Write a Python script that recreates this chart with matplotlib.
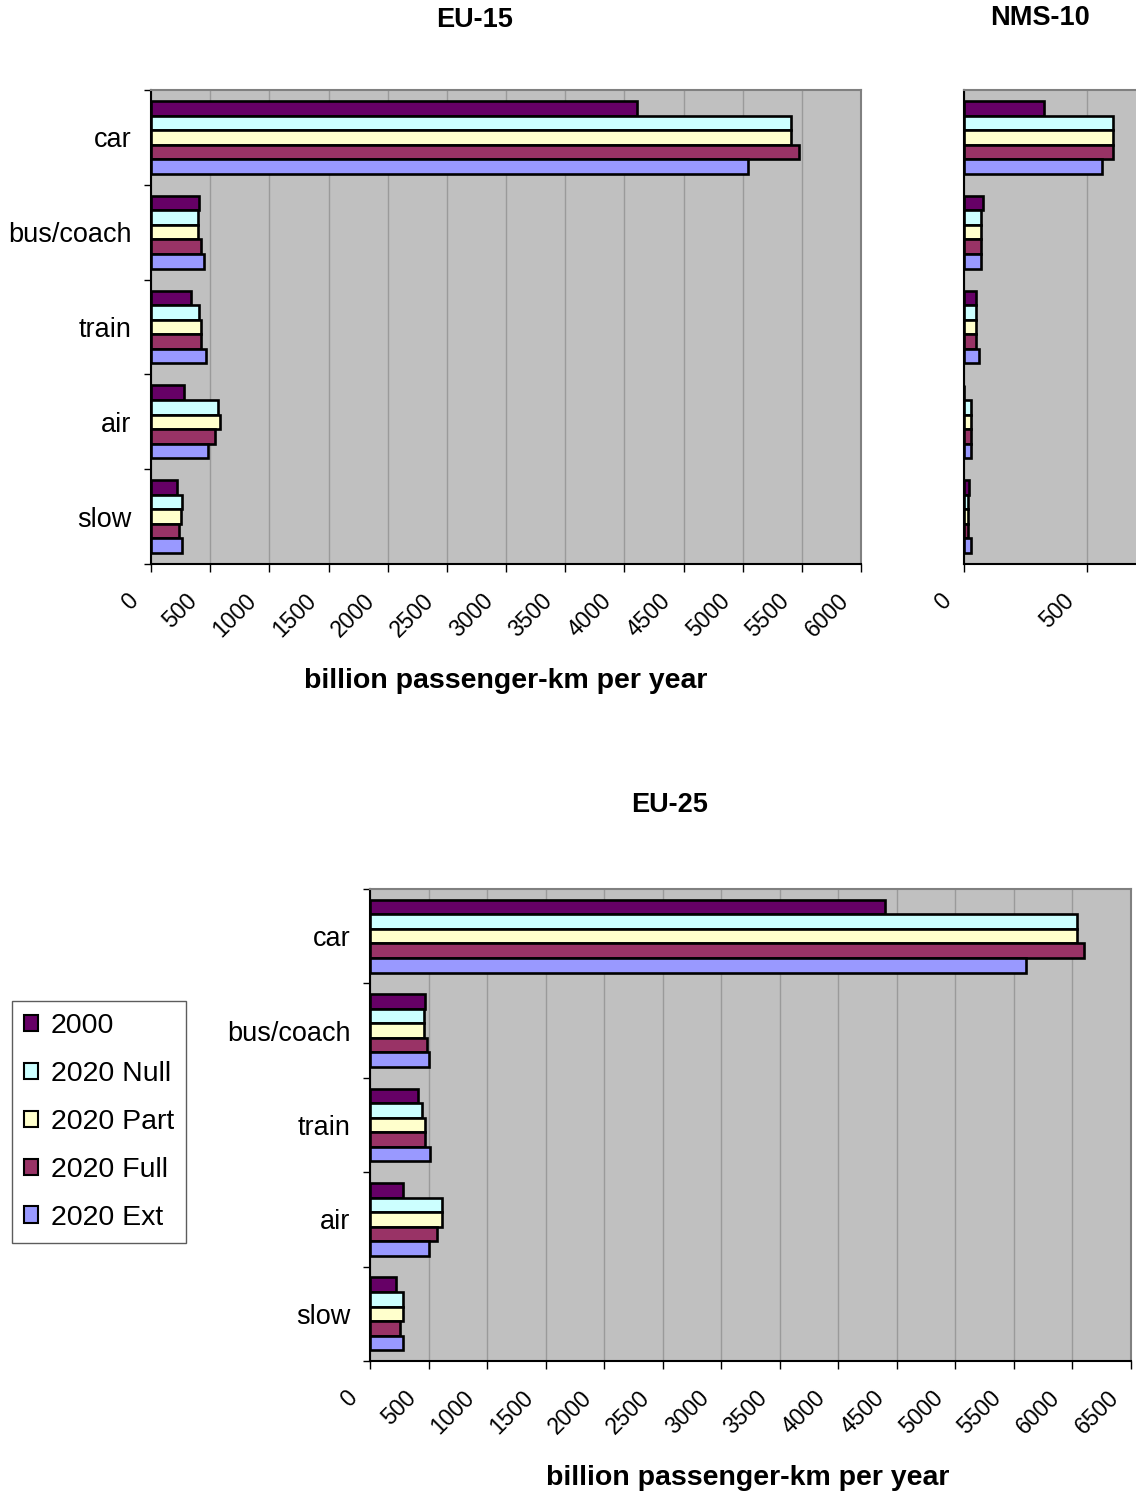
import matplotlib
matplotlib.use("Agg")
import matplotlib.pyplot as plt
from matplotlib.patches import Patch
from matplotlib.ticker import FixedLocator
from matplotlib.transforms import ScaledTranslation
import numpy as np

plt.rcParams['font.family'] = ['Liberation Sans', 'DejaVu Sans']

# ---- data (billion passenger-km per year) ----
modes = ["car", "bus/coach", "train", "air", "slow"]
series = ["2000", "2020 Null", "2020 Part", "2020 Full", "2020 Ext"]
colors = ["#660066", "#CCFFFF", "#FFFFCC", "#993366", "#9999FF"]

eu15 = {
    "2000":      [4110, 403, 341, 279, 220],
    "2020 Null": [5410, 400, 403, 562, 260],
    "2020 Part": [5410, 395, 422, 584, 257],
    "2020 Full": [5475, 419, 419, 545, 238],
    "2020 Ext":  [5045, 444, 464, 483, 262],
}
nms10 = {
    "2000":      [325, 79, 49, 0, 22],
    "2020 Null": [606, 68, 48, 30, 18],
    "2020 Part": [606, 68, 48, 30, 18],
    "2020 Full": [606, 68, 48, 30, 18],
    "2020 Ext":  [561, 68, 60, 30, 30],
}
eu25 = {
    "2000":      [4400, 470, 410, 285, 222],
    "2020 Null": [6035, 461, 447, 612, 282],
    "2020 Part": [6035, 462, 467, 612, 282],
    "2020 Full": [6100, 490, 467, 575, 256],
    "2020 Ext":  [5600, 507, 510, 507, 282],
}

W, H = 1136, 1499
fig = plt.figure(figsize=(W / 100, H / 100), dpi=100)
fig.patch.set_facecolor("white")


def rect(l, t, r, b):
    return [l / W, 1 - b / H, (r - l) / W, (b - t) / H]


BAR_H = 0.154
label_shift = ScaledTranslation(-8 / 100, 3 / 100, fig.dpi_scale_trans)


def draw_panel(ax, data, xmax, ticks, show_labels=True, show_cat_ticks=True):
    ax.set_facecolor("#C0C0C0")
    y = np.arange(len(modes))
    for j, s in enumerate(series):
        ax.barh(y + (j - 2) * BAR_H, data[s], height=BAR_H, color=colors[j],
                edgecolor="black", linewidth=1.9, zorder=3)
    ax.set_xlim(0, xmax)
    ax.set_ylim(4.5, -0.5)
    ax.set_xticks(ticks)
    ax.set_xticklabels([str(t) for t in ticks], rotation=45, ha="right",
                       va="bottom", rotation_mode="anchor", fontsize=16.5)
    ax.tick_params(axis="x", direction="out", length=6, width=1, pad=26,
                   color="black")
    for lab in ax.get_xticklabels():
        lab.set_transform(lab.get_transform() + label_shift)
    ax.grid(axis="x", color="#9A9A9A", linewidth=1, zorder=0)
    ax.set_axisbelow(True)
    ax.set_yticks(y)
    if show_labels:
        ax.set_yticklabels(modes, fontsize=19.5)
    else:
        ax.set_yticklabels([])
    ax.tick_params(axis="y", which="major", length=0, pad=14)
    if show_cat_ticks:
        ax.yaxis.set_minor_locator(FixedLocator(np.arange(-0.5, 5.0, 1.0)))
        ax.tick_params(axis="y", which="minor", direction="out", length=5,
                       width=1, color="black")
    for side in ("top", "right"):
        ax.spines[side].set_color("#808080")
        ax.spines[side].set_linewidth(1.5)
    for side in ("left", "bottom"):
        ax.spines[side].set_color("black")
        ax.spines[side].set_linewidth(1.5)


ax1 = fig.add_axes(rect(151, 90, 861, 564))
draw_panel(ax1, eu15, 6000, list(range(0, 6001, 500)))

ax2 = fig.add_axes(rect(964, 90, 1136, 564))
draw_panel(ax2, nms10, 700, [0, 500], show_labels=False, show_cat_ticks=False)
ax2.spines["right"].set_visible(False)

ax3 = fig.add_axes(rect(370, 889, 1131, 1361))
draw_panel(ax3, eu25, 6500, list(range(0, 6501, 500)))

xlabel = "billion passenger-km per year"
fig.text(506 / W, 1 - 681 / H, xlabel, ha="center", va="center",
         fontsize=20.5, fontweight="bold")
fig.text(748 / W, 1 - 1478 / H, xlabel, ha="center", va="center",
         fontsize=20.5, fontweight="bold")

fig.text(475 / W, 1 - 20 / H, "EU-15", ha="center", va="center",
         fontsize=19.5, fontweight="bold")
fig.text(1040 / W, 1 - 18 / H, "NMS-10", ha="center", va="center",
         fontsize=19.5, fontweight="bold")
fig.text(670 / W, 1 - 805 / H, "EU-25", ha="center", va="center",
         fontsize=19.5, fontweight="bold")

handles = [Patch(facecolor=c, edgecolor="black", linewidth=1.5) for c in colors]
leg = fig.legend(handles, series, loc="upper left",
                 bbox_to_anchor=(12 / W, 1 - 1001 / H), fontsize=20.5,
                 frameon=True, fancybox=False, handlelength=0.5,
                 handleheight=0.5, handletextpad=0.45, labelspacing=0.77,
                 borderpad=0.42, borderaxespad=0)
leg.get_frame().set_edgecolor("#333333")
leg.get_frame().set_linewidth(1.0)

fig.savefig("out.png", dpi=100, facecolor="white")
